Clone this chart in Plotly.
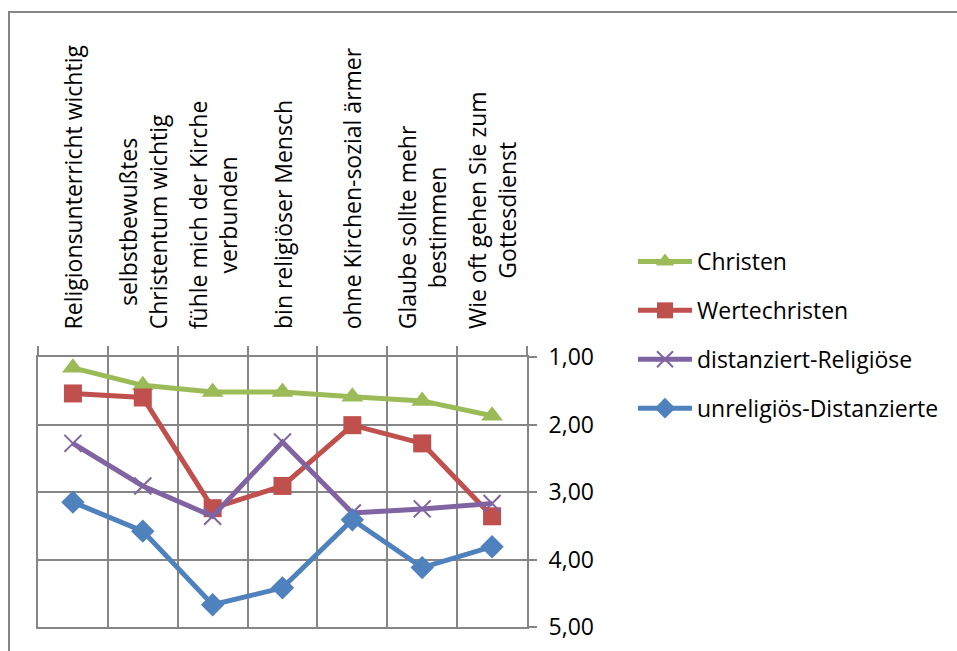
import plotly.graph_objects as go

categories = [
    "Religionsunterricht wichtig",
    "selbstbewußtes<br>Christentum wichtig",
    "fühle mich der Kirche<br>verbunden",
    "bin religiöser Mensch",
    "ohne Kirchen-sozial ärmer",
    "Glaube sollte mehr<br>bestimmen",
    "Wie oft gehen Sie zum<br>Gottesdienst",
]
cat_keys = ["c%d" % i for i in range(len(categories))]

christen = [1.16, 1.42, 1.52, 1.52, 1.59, 1.65, 1.87]
wertechristen = [1.54, 1.60, 3.24, 2.91, 2.01, 2.28, 3.36]
distanziert_religioese = [2.28, 2.91, 3.36, 2.26, 3.31, 3.25, 3.17]
unreligioes_distanzierte = [3.15, 3.58, 4.67, 4.42, 3.41, 4.12, 3.81]

y_ticks = [1, 2, 3, 4, 5]

FONT = "Open Sans"
FS = 23

series = [
    ("Christen", christen, "#9BBB59", dict(symbol="triangle-up", size=19)),
    ("Wertechristen", wertechristen, "#C0504D", dict(symbol="square", size=18)),
    ("distanziert-Religiöse", distanziert_religioese, "#8064A2",
     dict(symbol="x-thin", size=17, line=dict(width=2, color="#8064A2"))),
    ("unreligiös-Distanzierte", unreligioes_distanzierte, "#4F81BD", dict(symbol="diamond", size=18)),
]

fig = go.Figure()
for i, (name, vals, color, mk) in enumerate(series):
    fig.add_trace(go.Scatter(
        x=cat_keys, y=vals, name=name, mode="lines+markers",
        line=dict(color=color, width=5),
        marker=dict(color=color, **mk),
        legendgroup="g%d" % i,
    ))

W, H = 957, 651
L, R, T, B = 38, 430, 357, 24
pw, ph = W - L - R, H - T - B

def px_x(x):
    return (x - L) / pw

def px_y(y):
    return (H - B - y) / ph

annotations = []
for k, lab in zip(cat_keys, categories):
    annotations.append(dict(
        x=k, xref="x", y=1, yref="paper", yanchor="bottom", xanchor="center",
        yshift=26, text=lab, textangle=-90, showarrow=False, align="center",
        font=dict(family=FONT, size=FS, color="#000000"),
    ))

fig.update_layout(
    width=W, height=H,
    margin=dict(l=L, r=R, t=T, b=B, autoexpand=False),
    paper_bgcolor="white", plot_bgcolor="white",
    separators=",.",
    showlegend=True,
    legend=dict(
        x=px_x(633), y=px_y(240), xanchor="left", yanchor="top",
        font=dict(family=FONT, size=FS, color="#000000"),
        tracegroupgap=16, itemwidth=54, bgcolor="rgba(0,0,0,0)",
    ),
    annotations=annotations,
    shapes=[dict(
        type="rect", xref="paper", yref="paper",
        x0=px_x(9), x1=px_x(1000), y0=px_y(700), y1=px_y(12),
        line=dict(color="#868686", width=2), fillcolor="rgba(0,0,0,0)", layer="below",
    )],
)

fig.update_xaxes(
    type="category", side="top", range=[-0.5, 6.5],
    showticklabels=False, tickson="boundaries", automargin=False,
    ticks="outside", ticklen=9, tickcolor="#868686", tickwidth=2,
    showgrid=True, gridcolor="#868686", gridwidth=2,
    showline=True, linecolor="#868686", linewidth=2, mirror=True,
    zeroline=False,
)
fig.update_yaxes(
    side="right", range=[5, 1], tickvals=y_ticks, tickformat=".2f",
    automargin=False,
    ticks="outside", ticklen=8, tickcolor="#868686", tickwidth=2,
    showgrid=True, gridcolor="#868686", gridwidth=2,
    showline=True, linecolor="#868686", linewidth=2, mirror=True,
    zeroline=False, ticklabelstandoff=7,
    tickfont=dict(family=FONT, size=FS, color="#000000"),
)

fig.write_html("out.html")
